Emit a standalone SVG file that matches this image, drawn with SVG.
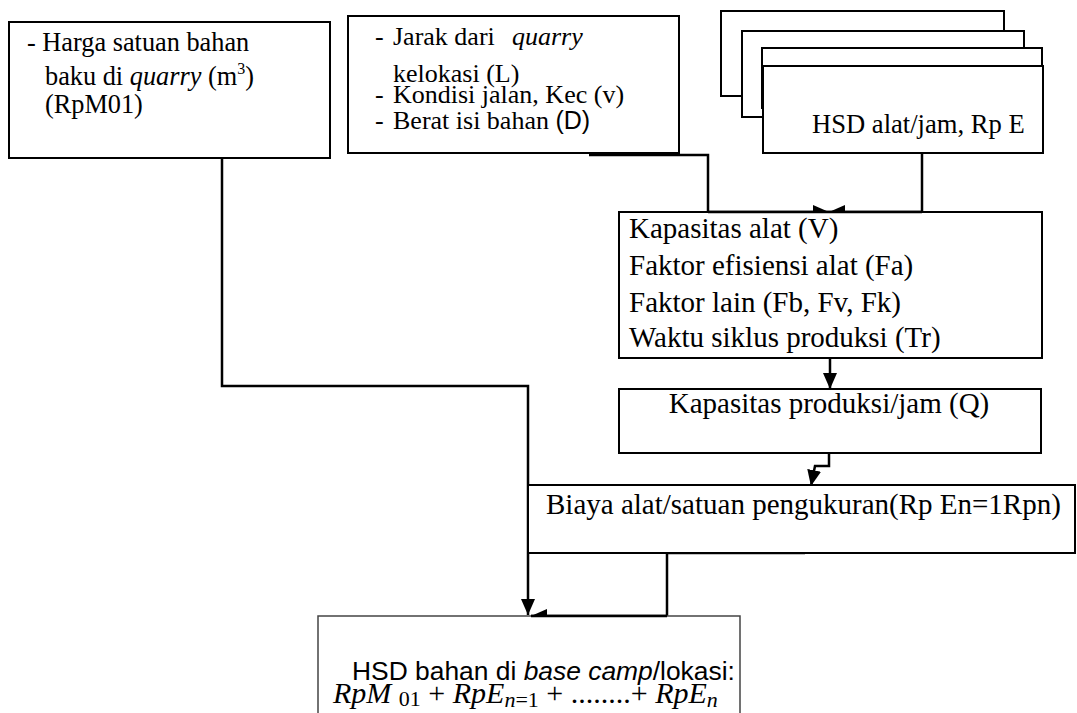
<svg xmlns="http://www.w3.org/2000/svg" width="1077" height="713" viewBox="0 0 1077 713">
<style>
.box{fill:#fff;stroke:#000;stroke-width:2}
.thin{fill:#fff;stroke:#444;stroke-width:1.5}
.t{font-family:"Liberation Serif","Times New Roman",serif;fill:#000}
.s{font-family:"Liberation Sans",Arial,sans-serif;fill:#000}
.c{fill:none;stroke:#000;stroke-width:2.5}
</style>
<defs>
<marker id="ah" markerUnits="userSpaceOnUse" markerWidth="18" markerHeight="14" refX="16" refY="7" orient="auto">
<path d="M0,0 L16,7 L0,14 Z" fill="#000"/>
</marker>
</defs>
<rect width="1077" height="713" fill="#fff"/>

<g id="connectors">
<path class="c" d="M222,158 V386 H528 V615" marker-end="url(#ah)"/>
<path class="c" d="M589,155 H708 V212 H829" marker-end="url(#ah)"/>
<path class="c" d="M922,153 V212 H829" marker-end="url(#ah)"/>
<path class="c" d="M830,358 V389" marker-end="url(#ah)"/>
<path class="c" d="M829,453 V466 H815 L811,486" marker-end="url(#ah)"/>
<path class="c" d="M667,553 H805 M667,553 V616 H531" marker-end="url(#ah)"/>
</g>

<g id="harga">
<rect class="box" x="9" y="22" width="321" height="136"/>
<text class="t" font-size="26.3"><tspan x="27" y="51">- Harga satuan bahan</tspan><tspan x="45" y="85">baku di <tspan font-style="italic">quarry</tspan> (m<tspan font-size="16" dy="-11">3</tspan><tspan dy="11">)</tspan></tspan><tspan x="45" y="113">(RpM01)</tspan></text>
</g>

<g id="jarak">
<rect class="box" x="348" y="16" width="331" height="137"/>
<text class="t" font-size="26"><tspan x="375" y="45">-</tspan><tspan x="393" y="45">Jarak dari</tspan><tspan x="512" y="45" font-style="italic">quarry</tspan><tspan x="393" y="82">kelokasi (L)</tspan><tspan x="375" y="103">-</tspan><tspan x="393" y="103">Kondisi jalan, Kec (v)</tspan><tspan x="375" y="129">-</tspan><tspan x="393" y="129">Berat isi bahan </tspan><tspan class="s" font-size="25">(D)</tspan></text>
</g>

<g id="hsd-alat">
<rect class="box" x="721" y="11" width="283" height="85"/>
<rect class="box" x="742" y="31" width="282" height="86"/>
<rect class="box" x="762" y="48" width="280" height="60"/>
<rect class="box" x="763" y="66" width="280" height="87"/>
<text class="t" font-size="26.6" x="812" y="133">HSD alat/jam, Rp E</text>
</g>

<g id="kapasitas-alat">
<rect class="box" x="619" y="212" width="423" height="146"/>
<path class="c" d="M708,212 H922"/>
<text class="t" font-size="29"><tspan x="629" y="238">Kapasitas alat (V)</tspan><tspan x="629" y="275">Faktor efisiensi alat (Fa)</tspan><tspan x="629" y="312">Faktor lain (Fb, Fv, Fk)</tspan><tspan x="629" y="347">Waktu siklus produksi (Tr)</tspan></text>
</g>

<g id="kapasitas-produksi">
<rect class="box" x="619" y="389" width="422" height="64"/>
<text class="t" font-size="29" x="829" y="413" text-anchor="middle">Kapasitas produksi/jam (Q)</text>
</g>

<g id="biaya">
<rect class="box" x="528" y="485" width="547" height="68"/>
<text class="t" font-size="29" x="546" y="514">Biaya alat/satuan pengukuran(Rp En=1Rpn)</text>
</g>

<g id="hsd-bahan">
<path class="thin" d="M318,730 V616 H740 V730"/>
<path class="c" d="M531,616 H667"/>
<text class="s" font-size="26.4" x="352" y="680">HSD bahan di <tspan font-style="italic">base camp</tspan>/lokasi:</text>
<text class="t" font-size="30" x="333" y="703"><tspan font-style="italic">RpM</tspan> <tspan font-size="22" dy="3">01</tspan><tspan dy="-3"> + </tspan><tspan font-style="italic">RpE</tspan><tspan font-size="22" dy="4" font-style="italic">n</tspan><tspan font-size="22">=1</tspan><tspan dy="-4"> + ........+ </tspan><tspan font-style="italic">RpE</tspan><tspan font-size="22" dy="4" font-style="italic">n</tspan></text>
</g>
</svg>
